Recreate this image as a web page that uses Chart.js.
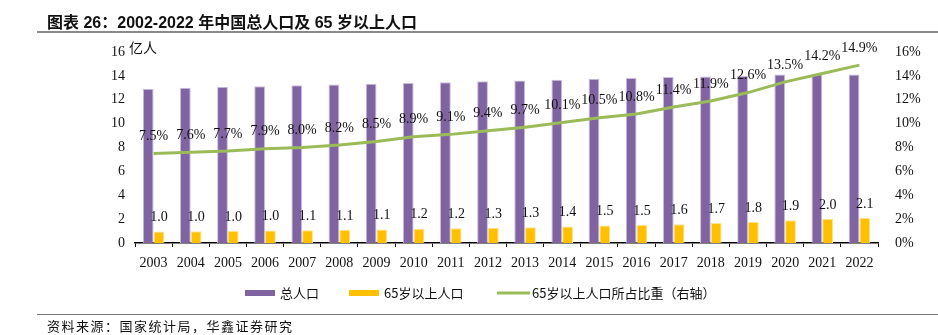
<!DOCTYPE html>
<html>
<head>
<meta charset="utf-8">
<script src="https://cdn.jsdelivr.net/npm/chart.js@4.4.1/dist/chart.umd.min.js"></script>
<style>
  html, body { margin: 0; padding: 0; background: #fff; }
  #wrap { position: relative; width: 938px; height: 335px; overflow: hidden; }
  #grafico { position: absolute; left: 0; top: 0; }
  .titulo {
    position: absolute; left: 47px; top: 9px;
    font: bold 16px "Liberation Sans", "Noto Sans CJK SC", sans-serif;
    color: #111; white-space: nowrap;
  }
  .regla { position: absolute; left: 37px; right: 0; height: 2px; background: #8a8a8a; }
  .unidad {
    position: absolute; left: 129px; top: 37px;
    font: 14px "Noto Sans CJK SC", sans-serif; color: #111;
  }
  .fuente {
    position: absolute; left: 47px; top: 316px;
    font: 13px "Noto Sans CJK SC", sans-serif; color: #111; letter-spacing: 1.5px;
  }
</style>
</head>
<body>
<div id="wrap">
  <canvas id="grafico" width="938" height="335"></canvas>
  <div class="titulo">图表 26：2002-2022 年中国总人口及 65 岁以上人口</div>
  <div class="regla" style="top:31px"></div>
  <div class="unidad">亿人</div>
  <div class="regla" style="top:314px;height:1px;background:#777"></div>
  <div class="fuente">资料来源：国家统计局，华鑫证券研究</div>
</div>
<script>
// años y series (亿人 / %)
const anios = ['2003','2004','2005','2006','2007','2008','2009','2010','2011','2012',
               '2013','2014','2015','2016','2017','2018','2019','2020','2021','2022'];
const poblacionTotal = [12.92,13.00,13.08,13.14,13.21,13.28,13.35,13.41,13.47,13.54,
                        13.61,13.68,13.75,13.83,13.90,13.95,14.00,14.12,14.13,14.12];
const poblacion65 = [0.97,0.99,1.01,1.04,1.06,1.10,1.13,1.19,1.23,1.27,
                     1.32,1.38,1.46,1.50,1.58,1.67,1.76,1.91,2.01,2.10];
const proporcion65 = [7.5,7.6,7.7,7.9,8.0,8.2,8.5,8.9,9.1,9.4,
                      9.7,10.1,10.5,10.8,11.4,11.9,12.6,13.5,14.2,14.9];
const ticksIzq = [0,2,4,6,8,10,12,14,16];
const ticksDer = [0,2,4,6,8,10,12,14,16];

const fuenteNum = '14px "Liberation Serif", "Times New Roman", serif';

// etiquetas de valor sobre las barras amarillas y la linea
const etiquetas = {
    id: 'etiquetas',
    afterDatasetsDraw(chart) {
        const ctx = chart.ctx;
        ctx.save();
        ctx.font = fuenteNum;
        ctx.fillStyle = '#111';
        ctx.textAlign = 'center';
        ctx.textBaseline = 'middle';
        chart.getDatasetMeta(1).data.forEach((bar, i) => {
            ctx.fillText(poblacion65[i].toFixed(1), bar.x, bar.y - 14);
        });
        chart.getDatasetMeta(2).data.forEach((pt, i) => {
            ctx.fillText(proporcion65[i].toFixed(1) + '%', pt.x, pt.y - 17);
        });
        ctx.restore();
    }
};

// leyenda dibujada a mano
const leyenda = {
    id: 'leyenda',
    afterDraw(chart) {
        const ctx = chart.ctx;
        const y = 293;
        const items = [
            { x: 245, tipo: 'caja', color: '#8064A2', texto: '总人口' },
            { x: 349, tipo: 'caja', color: '#FFC000', texto: '65岁以上人口' },
            { x: 497, tipo: 'linea', color: '#9BBB59', texto: '65岁以上人口所占比重（右轴）' }
        ];
        ctx.save();
        ctx.font = '13px "Noto Sans CJK SC", sans-serif';
        ctx.textBaseline = 'middle';
        ctx.textAlign = 'left';
        items.forEach(it => {
            if (it.tipo === 'caja') {
                ctx.fillStyle = it.color;
                ctx.fillRect(it.x, y - 3, 30, 6);
            } else {
                ctx.strokeStyle = it.color;
                ctx.lineWidth = 3;
                ctx.beginPath();
                ctx.moveTo(it.x, y);
                ctx.lineTo(it.x + 33, y);
                ctx.stroke();
            }
            ctx.fillStyle = '#111';
            ctx.fillText(it.texto, it.x + 35, y);
        });
        ctx.restore();
    }
};

new Chart(document.getElementById('grafico'), {
    type: 'bar',
    data: {
        labels: anios,
        datasets: [{
            label: '总人口',
            data: poblacionTotal,
            backgroundColor: '#8064A2',
            borderColor: '#C9BEDD',
            borderWidth: { left: 1, right: 1, top: 1, bottom: 0 },
            yAxisID: 'y',
            order: 2
        }, {
            label: '65岁以上人口',
            data: poblacion65,
            backgroundColor: '#FFC000',
            borderColor: '#FFE28A',
            borderWidth: { left: 1, right: 1, top: 1, bottom: 0 },
            yAxisID: 'y',
            order: 2
        }, {
            type: 'line',
            label: '65岁以上人口所占比重（右轴）',
            data: proporcion65,
            borderColor: '#9BBB59',
            borderWidth: 3,
            pointRadius: 0,
            tension: 0,
            yAxisID: 'y1',
            order: 1
        }]
    },
    options: {
        responsive: false,
        animation: false,
        layout: { padding: { top: 52, bottom: 62, left: 0, right: 0 } },
        datasets: { bar: { categoryPercentage: 0.58, barPercentage: 1.0 } },
        plugins: {
            legend: { display: false },
            tooltip: { enabled: false }
        },
        scales: {
            x: {
                offset: true,
                grid: { display: true, drawOnChartArea: false, color: '#000', tickLength: 4, offset: true },
                border: { display: true, color: '#000', width: 1.5 },
                ticks: { font: { family: '"Liberation Serif", serif', size: 14 }, color: '#111', padding: 8, maxRotation: 0, autoSkip: false },
                afterFit(scale) { scale.height = 30; }
            },
            y: {
                position: 'left',
                min: 0, max: 16,
                grid: { display: false },
                border: { display: false },
                afterBuildTicks(scale) { scale.ticks = ticksIzq.map(v => ({ value: v })); },
                ticks: { font: { family: '"Liberation Serif", serif', size: 14 }, color: '#111', padding: 2 },
                afterFit(scale) { scale.width = 135; }
            },
            y1: {
                position: 'right',
                min: 0, max: 16,
                grid: { display: false },
                border: { display: false },
                afterBuildTicks(scale) { scale.ticks = ticksDer.map(v => ({ value: v })); },
                ticks: { font: { family: '"Liberation Serif", serif', size: 14 }, color: '#111', padding: 9,
                         callback: v => v + '%' },
                afterFit(scale) { scale.width = 60; }
            }
        }
    },
    plugins: [etiquetas, leyenda]
});
</script>
</body>
</html>
